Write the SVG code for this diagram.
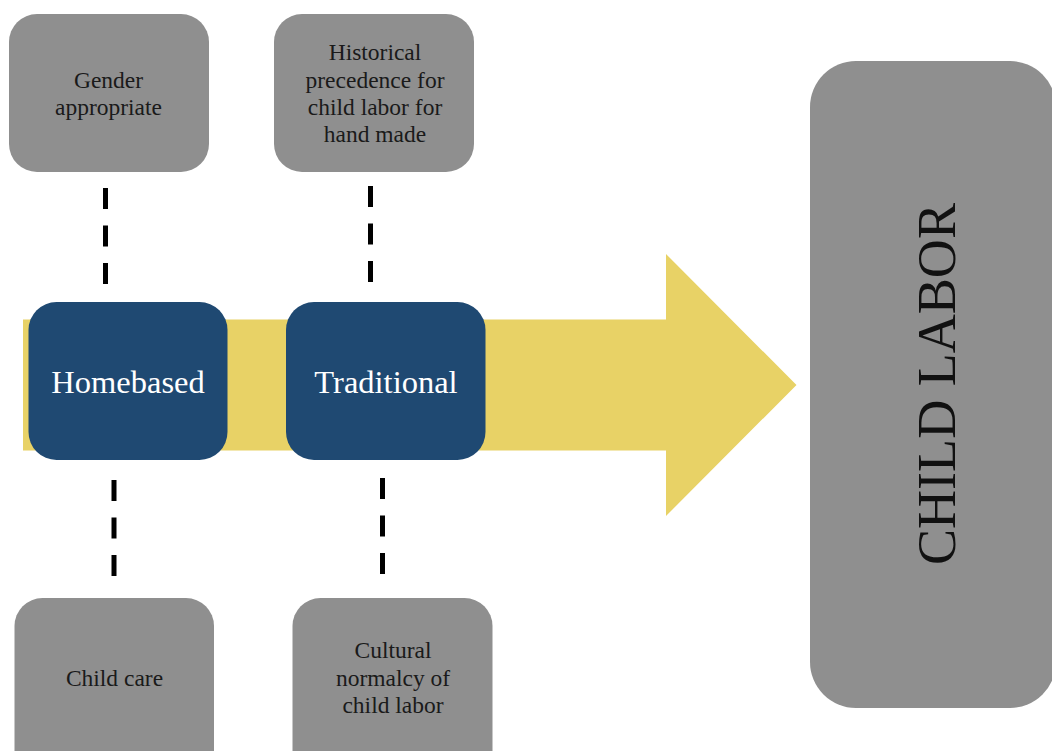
<svg xmlns="http://www.w3.org/2000/svg" width="1052" height="751" viewBox="0 0 1052 751" font-family="Liberation Serif, Times New Roman, serif">
<style>
.g{fill:#8f8f8f}
.b{fill:#1f4972}
.t{font-size:23.5px;fill:#1a1a1a;text-anchor:middle}
.w{font-size:32.5px;fill:#ffffff;text-anchor:middle}
.big{font-size:55px;fill:#111111;text-anchor:middle}
.d{stroke:#000;stroke-width:5;stroke-dasharray:21 16.5;fill:none}
</style>
<rect width="1052" height="751" fill="#ffffff"/>
<g id="arrow">
<polygon points="23,319.5 666,319.5 666,254 796.5,385 666,516 666,450.5 23,450.5" fill="#e8d266"/>
</g>
<g id="connectors">
<line class="d" x1="105.5" y1="188" x2="105.5" y2="285"/>
<line class="d" x1="370.5" y1="186" x2="370.5" y2="283"/>
<line class="d" x1="114" y1="480" x2="114" y2="577"/>
<line class="d" x1="382.5" y1="478" x2="382.5" y2="575"/>
</g>
<g id="gender">
<rect class="g" x="9" y="14" width="200" height="158" rx="28"/>
<text class="t" x="108.5" y="88">Gender</text>
<text class="t" x="108.5" y="115">appropriate</text>
</g>
<g id="historical">
<rect class="g" x="274" y="14" width="200" height="158" rx="28"/>
<text class="t" x="375" y="60">Historical</text>
<text class="t" x="375" y="87.5">precedence for</text>
<text class="t" x="375" y="115">child labor for</text>
<text class="t" x="375" y="141.5">hand made</text>
</g>
<g id="homebased">
<rect class="b" x="28.5" y="302" width="199" height="158" rx="28"/>
<text class="w" x="128" y="393">Homebased</text>
</g>
<g id="traditional">
<rect class="b" x="286" y="302" width="199.5" height="158" rx="28"/>
<text class="w" x="386" y="393">Traditional</text>
</g>
<g id="childcare">
<rect class="g" x="14.5" y="598" width="199.5" height="190" rx="28"/>
<text class="t" x="114.5" y="686">Child care</text>
</g>
<g id="cultural">
<rect class="g" x="292.5" y="598" width="200" height="190" rx="28"/>
<text class="t" x="393" y="658">Cultural</text>
<text class="t" x="393" y="685.5">normalcy of</text>
<text class="t" x="393" y="713">child labor</text>
</g>
<g id="childlabor">
<rect class="g" x="810" y="61" width="246" height="647" rx="46"/>
<text class="big" transform="translate(955,384) rotate(-90)" textLength="362" lengthAdjust="spacingAndGlyphs">CHILD LABOR</text>
</g>
</svg>
